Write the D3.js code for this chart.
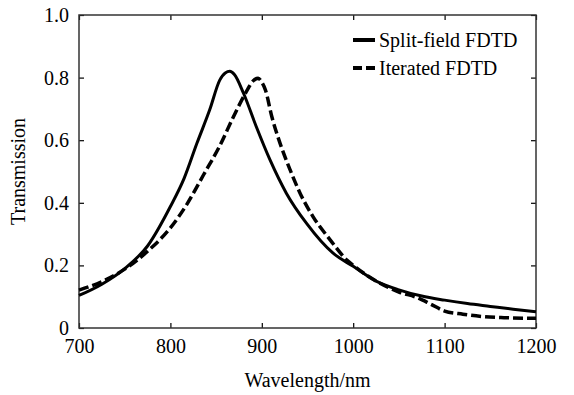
<!DOCTYPE html>
<html>
<head>
<meta charset="utf-8">
<script src="https://cdn.jsdelivr.net/npm/d3@7"></script>
<style>
  html, body { margin: 0; padding: 0; background: #fff; }
</style>
</head>
<body>
<svg id="chart" width="574" height="395"></svg>
<script>
// series data
const splitNm = [700, 725, 750, 775, 800, 815, 829, 843, 854, 860, 865, 870, 880, 894, 909, 927, 949, 978, 1000, 1025, 1050, 1075, 1100, 1125, 1150, 1175, 1200];
const splitT  = [0.104, 0.140, 0.190, 0.262, 0.388, 0.478, 0.590, 0.697, 0.792, 0.815, 0.820, 0.810, 0.750, 0.643, 0.537, 0.430, 0.334, 0.239, 0.197, 0.150, 0.122, 0.102, 0.089, 0.078, 0.069, 0.060, 0.052];

const iterNm = [700, 725, 750, 775, 800, 818, 836, 854, 869, 884, 890, 896, 900, 904, 911, 920, 931, 942, 956, 975, 993, 1000, 1025, 1050, 1070, 1085, 1100, 1120, 1140, 1165, 1200];
const iterT  = [0.121, 0.148, 0.188, 0.245, 0.320, 0.395, 0.488, 0.582, 0.675, 0.760, 0.788, 0.798, 0.785, 0.760, 0.675, 0.590, 0.505, 0.430, 0.356, 0.281, 0.217, 0.200, 0.150, 0.115, 0.097, 0.076, 0.054, 0.044, 0.037, 0.033, 0.031];

const seriesNames = ['Split-field FDTD', 'Iterated FDTD'];
const xTicks = [700, 800, 900, 1000, 1100, 1200];
const yTicks = [0, 0.2, 0.4, 0.6, 0.8, 1.0];
const yTickLabels = ['0', '0.2', '0.4', '0.6', '0.8', '1.0'];

const font = '"Liberation Serif", "Times New Roman", "DejaVu Serif", serif';

const margin = {top: 15, right: 38, bottom: 67, left: 79},
  width = 574 - margin.left - margin.right,
  height = 395 - margin.top - margin.bottom;

const svg = d3.select('#chart');
const g = svg.append('g')
  .attr('transform', 'translate(' + margin.left + ',' + margin.top + ')');

const x = d3.scaleLinear().domain([700, 1200]).range([0, width]);
const y = d3.scaleLinear().domain([0, 1]).range([height, 0]);

// ticks point inward on all four sides
const xAxis = d3.axisBottom(x).tickValues(xTicks).tickSize(-5).tickPadding(11).tickFormat(d3.format('d'));
const yAxis = d3.axisLeft(y).tickValues(yTicks).tickSize(-5).tickPadding(10)
  .tickFormat((d, i) => yTickLabels[i]);

g.append('g')
  .attr('transform', 'translate(0,' + height + ')')
  .call(xAxis);
g.append('g').call(yAxis);

g.append('g').call(d3.axisTop(x).tickValues(xTicks).tickSize(-5).tickFormat(''));
g.append('g').attr('transform', 'translate(' + width + ',0)')
  .call(d3.axisRight(y).tickValues(yTicks).tickSize(-5).tickFormat(''));

g.selectAll('.domain').remove();
g.selectAll('.tick line').attr('stroke', '#000').attr('stroke-width', 1.2);
g.selectAll('.tick text')
  .attr('font-family', null)
  .style('font-family', font)
  .style('font-size', '20px')
  .attr('fill', '#000');

g.append('rect')
  .attr('width', width).attr('height', height)
  .attr('fill', 'none').attr('stroke', '#333').attr('stroke-width', 1.5);

const line = d3.line()
  .x(d => x(d[0]))
  .y(d => y(d[1]))
  .curve(d3.curveMonotoneX);

g.append('path')
  .datum(splitNm.map((v, i) => [v, splitT[i]]))
  .attr('fill', 'none').attr('stroke', '#000')
  .attr('stroke-width', 3)
  .attr('stroke-linejoin', 'round')
  .attr('d', line);

g.append('path')
  .datum(iterNm.map((v, i) => [v, iterT[i]]))
  .attr('fill', 'none').attr('stroke', '#000')
  .attr('stroke-width', 3.5)
  .attr('stroke-dasharray', '10,4')
  .attr('d', line);

// legend
const legend = svg.append('g').attr('transform', 'translate(353,40)');
seriesNames.forEach((name, i) => {
  const row = legend.append('g').attr('transform', 'translate(0,' + (i * 28) + ')');
  row.append('line')
    .attr('x1', 0).attr('x2', 22).attr('y1', 0).attr('y2', 0)
    .attr('stroke', '#000').attr('stroke-width', 4)
    .attr('stroke-dasharray', i === 1 ? '9,4' : null);
  row.append('text')
    .attr('x', 26).attr('y', 7)
    .style('font-family', font)
    .style('font-size', '20px')
    .text(name);
});

// axis titles
svg.append('text')
  .attr('x', margin.left + width / 2).attr('y', 387)
  .attr('text-anchor', 'middle')
  .style('font-family', font)
  .style('font-size', '20px')
  .text('Wavelength/nm');

svg.append('text')
  .attr('transform', 'translate(25,' + (margin.top + height / 2) + ')rotate(-90)')
  .attr('text-anchor', 'middle')
  .style('font-family', font)
  .style('font-size', '20px')
  .text('Transmission');
</script>
</body>
</html>
